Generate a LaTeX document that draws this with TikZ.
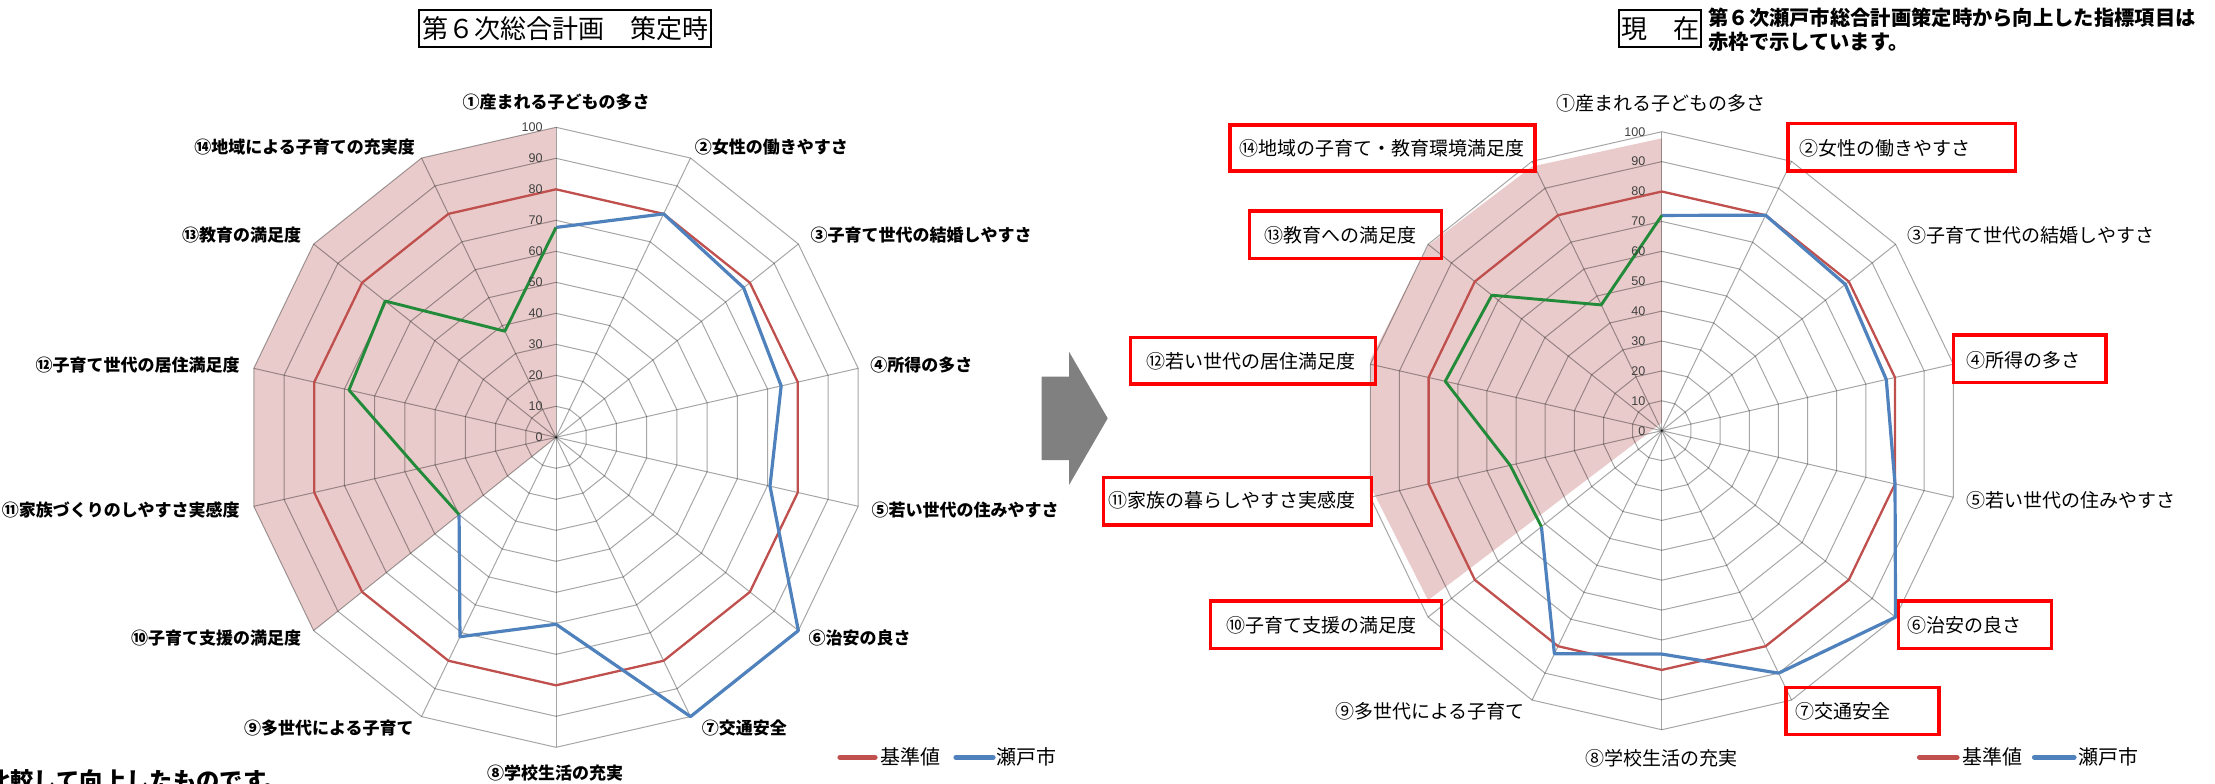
\documentclass[tikz,border=0pt]{standalone}
\usepackage{fontspec}
\setmainfont{Noto Sans CJK JP}
\newfontfamily\numfont{Liberation Sans}
\definecolor{pinkc}{RGB}{234,203,203}
\definecolor{redl}{RGB}{192,80,77}
\definecolor{bluel}{RGB}{79,129,189}
\definecolor{greenl}{RGB}{34,139,58}
\definecolor{arrowc}{RGB}{128,128,128}
\newcommand{\spidergrid}[1]{%
  \foreach \k in {1,...,10}{%
    \draw[gridl] ({90}:{\k*#1}) \foreach \i in {1,...,13}{ -- ({90-\i*360/14}:{\k*#1})} -- cycle;
  }%
  \foreach \i in {0,...,13}{\draw[gridl] (0,0) -- ({90-\i*360/14}:{10*#1});}%
}
\begin{document}
\begin{tikzpicture}[x=0.5pt,y=-0.5pt,
  gridl/.style={draw=black,draw opacity=0.35,line width=0.5pt},
  lblL/.style={font=\fontsize{8.5pt}{9pt}\selectfont\bfseries, inner sep=0pt, text height=7.4pt, text depth=1pt},
  lblR/.style={font=\fontsize{9.5pt}{10pt}\selectfont, inner sep=0pt, text height=8.3pt, text depth=1.1pt},
  ticklbl/.style={font=\numfont\fontsize{6.3pt}{7pt}\selectfont, text=black!75, inner sep=0pt, anchor=east},
  legt/.style={font=\fontsize{10pt}{11pt}\selectfont, inner sep=0pt, anchor=west, text height=8.8pt, text depth=1.2pt},
  redbox/.style={draw=red,line width=1.65pt},
  baseline/.style={draw=redl,line width=1.15pt,line join=round},
  setol/.style={draw=bluel,line width=1.6pt,line join=round},
  greenline/.style={draw=greenl,line width=1.45pt,line join=round},
  titlebox/.style={draw=black,line width=0.8pt},
  legline/.style={line width=2.6pt,line cap=round}
]
\useasboundingbox (0,0) rectangle (2215,783);
\fill[white] (0,0) rectangle (2215,783);

% ---------- left chart ----------
\begin{scope}[shift={(556,437.3)}, yscale=-1]
  \fill[pinkc] (0,0) -- (90:310) -- (115.714:310) -- (141.429:310) -- (167.143:310) -- (-167.143:310) -- (-141.429:310) -- cycle;
  \spidergrid{31}
  \draw[baseline] (90:248) \foreach \i in {1,...,13}{ -- ({90-\i*360/14}:248)} -- cycle;
  \draw[setol] (90:{67.7*3.1}) -- (64.286:{80*3.1}) -- (38.571:{77.4*3.1}) -- (12.857:{74.5*3.1})
     -- (-12.857:{70.8*3.1}) -- (-38.571:{100*3.1}) -- (-64.286:{100*3.1}) -- (-90:{60.3*3.1})
     -- (-115.714:{71.4*3.1}) -- (-141.429:{40*3.1});
  \draw[greenline] (-141.429:{40*3.1}) -- (-167.143:{45.7*3.1}) -- (167.143:{68.5*3.1})
     -- (141.429:{70.5*3.1}) -- (115.714:{38*3.1}) -- (90:{67.7*3.1});
  \foreach \v in {0,10,...,100}{\node[ticklbl] at (-13,{\v*3.1}) {\v};}
\end{scope}

% ---------- right chart ----------
\begin{scope}[shift={(1661.8,430.7)}, yscale=-1]
  \fill[pinkc, shift={(0,7.9)}, yscale=0.9514] (0,0) -- (90:299) -- (115.714:299) -- (141.429:299) -- (167.143:299) -- (-167.143:299) -- (-141.429:299) -- cycle;
  \spidergrid{29.9}
  \draw[baseline] (90:239.2) \foreach \i in {1,...,13}{ -- ({90-\i*360/14}:239.2)} -- cycle;
  \draw[setol] (90:{72*2.99}) -- (64.286:{80*2.99}) -- (38.571:{78.5*2.99}) -- (12.857:{77*2.99})
     -- (-12.857:{80*2.99}) -- (-38.571:{100*2.99}) -- (-64.286:{90*2.99}) -- (-90:{74.7*2.99})
     -- (-115.714:{82.8*2.99}) -- (-141.429:{51.5*2.99});
  \draw[greenline] (-141.429:{51.5*2.99}) -- (-167.143:{52*2.99}) -- (167.143:{74.3*2.99})
     -- (141.429:{72.7*2.99}) -- (115.714:{46.7*2.99}) -- (90:{72*2.99});
  \foreach \v in {0,10,...,100}{\node[ticklbl] at (-16,{\v*2.99}) {\v};}
\end{scope}

% ---------- left labels ----------
\node[lblL] (l1) at (556,101.7) {①産まれる子どもの多さ};
\node[lblL,anchor=west] (l2) at (694.5,146.7) {②女性の働きやすさ};
\node[lblL,anchor=west] (l3) at (810.3,235) {③子育て世代の結婚しやすさ};
\node[lblL,anchor=west] (l4) at (869.9,365) {④所得の多さ};
\node[lblL,anchor=west] (l5) at (871.3,510) {⑤若い世代の住みやすさ};
\node[lblL,anchor=west] (l6) at (808.1,638.3) {⑥治安の良さ};
\node[lblL,anchor=west] (l7) at (701.5,728.3) {⑦交通安全};
\node[lblL] (l8) at (555,773.3) {⑧学校生活の充実};
\node[lblL,anchor=east] (l9) at (413.9,728.3) {⑨多世代による子育て};
\node[lblL,anchor=east] (l10) at (301.6,638.3) {⑩子育て支援の満足度};
\node[lblL,anchor=east] (l11) at (240,510) {⑪家族づくりのしやすさ実感度};
\node[lblL,anchor=east] (l12) at (240,365) {⑫子育て世代の居住満足度};
\node[lblL,anchor=east] (l13) at (301.6,235) {⑬教育の満足度};
\node[lblL,anchor=east] (l14) at (415.3,146.7) {⑭地域による子育ての充実度};

% ---------- right labels ----------
\node[lblR] (r1) at (1661,103.3) {①産まれる子どもの多さ};
\node[lblR,anchor=west] (r2) at (1799,148.3) {②女性の働きやすさ};
\node[lblR,anchor=west] (r3) at (1907,235) {③子育て世代の結婚しやすさ};
\node[lblR,anchor=west] (r4) at (1966,360) {④所得の多さ};
\node[lblR,anchor=west] (r5) at (1966,500) {⑤若い世代の住みやすさ};
\node[lblR,anchor=west] (r6) at (1907,625) {⑥治安の良さ};
\node[lblR,anchor=west] (r7) at (1795,711) {⑦交通安全};
\node[lblR] (r8) at (1661.8,758.3) {⑧学校生活の充実};
\node[lblR,anchor=east] (r9) at (1525.2,711.7) {⑨多世代による子育て};
\node[lblR,anchor=east] (r10) at (1416.4,625) {⑩子育て支援の満足度};
\node[lblR,anchor=east] (r11) at (1356,500) {⑪家族の暮らしやすさ実感度};
\node[lblR,anchor=east] (r12) at (1356,361) {⑫若い世代の居住満足度};
\node[lblR,anchor=east] (r13) at (1416.4,235) {⑬教育への満足度};
\node[lblR,anchor=east] (r14) at (1525.2,148.3) {⑭地域の子育て・教育環境満足度};

% ---------- red frames ----------
\draw[redbox] (1230,125) rectangle (1535,171);
\draw[redbox] (1788,123.3) rectangle (2015.8,171);
\draw[redbox] (1249.3,211) rectangle (1441.3,258.3);
\draw[redbox] (1130.6,337.3) rectangle (1375.2,384);
\draw[redbox] (1953.2,335) rectangle (2106,382.7);
\draw[redbox] (1103.6,477.7) rectangle (1371.6,525);
\draw[redbox] (1210.2,601) rectangle (1441.3,648.3);
\draw[redbox] (1898.5,601) rectangle (2051.3,648.3);
\draw[redbox] (1786,687.3) rectangle (1939,734.3);

% ---------- legends ----------
\coordinate (lg1a) at (840,757.3); \coordinate (lg1b) at (875,757.3);
\draw[legline,redl] (lg1a) -- (lg1b);
\node[legt] (lgt1) at (880.4,757.3) {基準値};
\coordinate (lg2a) at (956,757.3); \coordinate (lg2b) at (993,757.3);
\draw[legline,bluel] (lg2a) -- (lg2b);
\node[legt] (lgt2) at (996,757.3) {瀬戸市};
\coordinate (lg3a) at (1919.5,757.3); \coordinate (lg3b) at (1957,757.3);
\draw[legline,redl] (lg3a) -- (lg3b);
\node[legt] (lgt3) at (1961.7,757.3) {基準値};
\coordinate (lg4a) at (2034.5,757.3); \coordinate (lg4b) at (2074,757.3);
\draw[legline,bluel] (lg4a) -- (lg4b);
\node[legt] (lgt4) at (2077.6,757.3) {瀬戸市};

% ---------- titles ----------
\draw[titlebox] (419,10) rectangle (711,47);
\node[font=\fontsize{13pt}{14pt}\selectfont, inner sep=0pt] (t1) at (565,28.5) {第６次総合計画　策定時};
\draw[titlebox] (1619,10) rectangle (1701,47);
\node[font=\fontsize{13pt}{14pt}\selectfont, inner sep=0pt] (t2) at (1660,28.5) {現　在};
\node[font=\fontsize{10.15pt}{11pt}\selectfont\bfseries, inner sep=0pt, anchor=west] (n1) at (1708,18) {第６次瀬戸市総合計画策定時から向上した指標項目は};
\node[font=\fontsize{10.15pt}{11pt}\selectfont\bfseries, inner sep=0pt, anchor=west] (n2) at (1708,41.5) {赤枠で示しています。};
\node[font=\fontsize{11.65pt}{12pt}\selectfont\bfseries, inner sep=0pt, anchor=west] (b1) at (-13,781) {比較して向上したものです。};

% ---------- arrow ----------
\fill[arrowc] (1041.7,376.7) -- (1069,376.7) -- (1069,351.7) -- (1107.7,418.3) -- (1069,485) -- (1069,460) -- (1041.7,460) -- cycle;
\end{tikzpicture}
\end{document}
